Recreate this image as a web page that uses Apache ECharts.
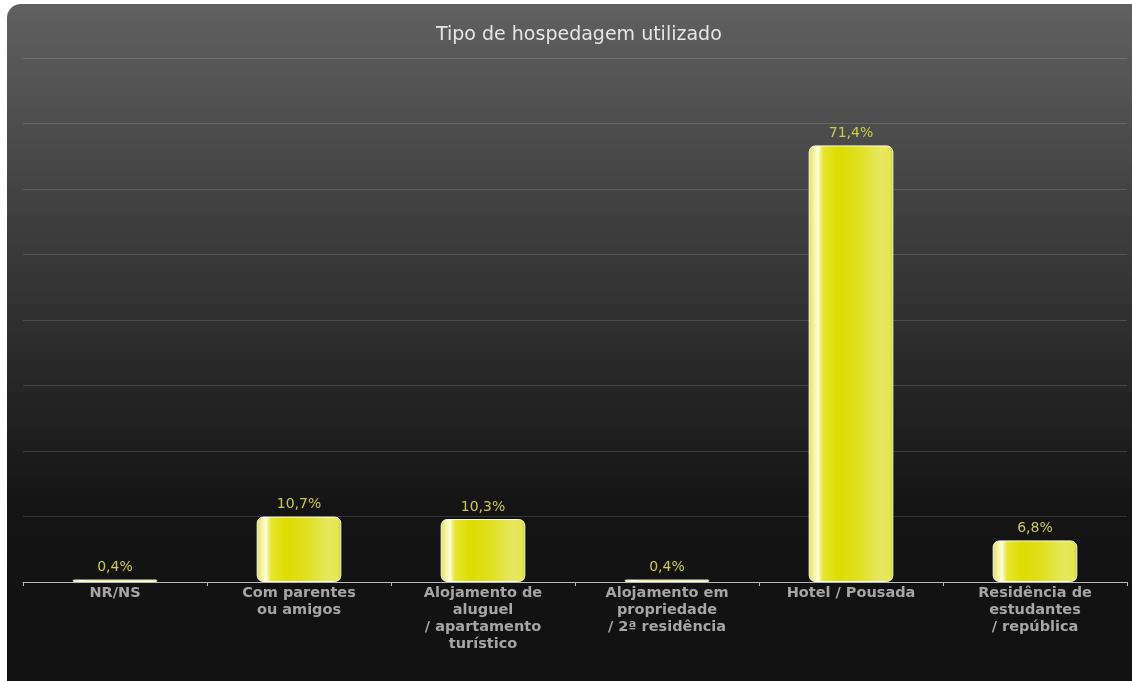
<!DOCTYPE html>
<html>
<head>
<meta charset="utf-8">
<script src="https://cdn.jsdelivr.net/npm/echarts@6/dist/echarts.min.js"></script>
<style>
html,body{margin:0;padding:0;background:#fff;}
#chart{width:1132px;height:681px;}
</style>
</head>
<body>
<div id="chart"></div>
<script>
var titleText = 'Tipo de hospedagem utilizado';
var categories = [
  'NR/NS',
  'Com parentes\nou amigos',
  'Alojamento de\naluguel\n/ apartamento\nturístico',
  'Alojamento em\npropriedade\n/ 2ª residência',
  'Hotel / Pousada',
  'Residência de\nestudantes\n/ república'
];
var values = [0.4, 10.7, 10.3, 0.4, 71.4, 6.8];
var yMax = 85.7;

var chart = echarts.init(document.getElementById('chart'), null, {renderer:'canvas'});
var barGrad = new echarts.graphic.LinearGradient(0, 0, 1, 0, [
  {offset:0, color:'#e2e250'},
  {offset:0.07, color:'#f6f6b0'},
  {offset:0.11, color:'#fdfde0'},
  {offset:0.17, color:'#e6e630'},
  {offset:0.35, color:'#dcdc00'},
  {offset:0.6, color:'#e0e020'},
  {offset:0.85, color:'#e8e860'},
  {offset:0.96, color:'#e6e650'},
  {offset:1, color:'#c8c820'}
]);
var option = {
  backgroundColor: 'transparent',
  animation: false,
  graphic: [{
    type: 'rect',
    z: -10,
    silent: true,
    shape: {x: 7, y: 4, width: 1145, height: 700, r: 14},
    style: {
      fill: new echarts.graphic.LinearGradient(0, 0, 0, 1, [
        {offset:0, color:'#606060'},
        {offset:0.35, color:'#3a3a3a'},
        {offset:0.72, color:'#141414'},
        {offset:1, color:'#101010'}
      ])
    }
  }],
  title: {
    text: titleText,
    left: 431,
    top: 21,
    textStyle: {color:'#e6e6e6', fontSize:19, fontWeight:'normal', fontFamily:'DejaVu Sans'}
  },
  grid: {left: 23, right: 5, top: 58, bottom: 99, containLabel: false},
  xAxis: {
    type: 'category',
    data: categories,
    axisLine: {show:true, lineStyle:{color:'#b8b8b8', width:1}},
    axisTick: {show:true, length:4, lineStyle:{color:'#b8b8b8'}},
    axisLabel: {
      color:'#a6a6a6', fontSize:14.5, fontWeight:'bold', fontFamily:'DejaVu Sans',
      lineHeight:17, margin:3, interval:0
    }
  },
  yAxis: {
    type: 'value',
    min: 0,
    max: yMax,
    interval: yMax / 8,
    axisLine: {show:false},
    axisTick: {show:false},
    axisLabel: {show:false},
    splitLine: {show:true, lineStyle:{color:'rgba(255,255,255,0.14)', width:1}}
  },
  series: [{
    type: 'bar',
    data: values,
    barCategoryGap: '54%',
    itemStyle: {
      color: barGrad,
      borderColor: '#fbfbf0',
      borderWidth: 1,
      borderRadius: 6
    },
    label: {
      show: true,
      position: 'top',
      distance: 5,
      color: '#cccc48',
      fontSize: 14,
      fontFamily: 'DejaVu Sans',
      formatter: function(p){ return String(p.value).replace('.', ',') + '%'; }
    }
  }]
};
chart.setOption(option);
</script>
</body>
</html>
